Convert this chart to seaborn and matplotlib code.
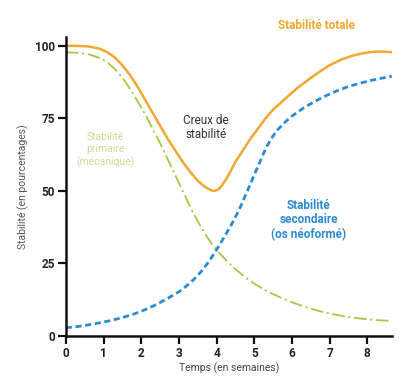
import matplotlib
matplotlib.use("Agg")
import matplotlib.pyplot as plt
import seaborn as sns
import pandas as pd

# ---- data ----
total_x = [0, 0.3, 0.6, 0.9, 1.1, 1.3, 1.5, 1.7, 1.9, 2.1, 2.3, 2.5, 2.7, 2.9, 3.1, 3.3, 3.5, 3.7,
           3.85, 3.95, 4.05, 4.15, 4.3, 4.5, 4.7, 4.9, 5.1, 5.3, 5.5, 5.8, 6.1, 6.4, 6.7, 7.0, 7.3,
           7.6, 7.9, 8.2, 8.45, 8.65]
total_y = [100, 100, 99.8, 99, 97.8, 96, 93.3, 90, 86, 81.5, 77, 72.5, 68, 64, 60, 56.5, 53.5, 51.3,
           50.2, 50, 50.5, 52, 55, 60, 64, 68, 71.5, 75, 78, 81.5, 85, 88, 90.8, 93.3, 95.2,
           96.6, 97.5, 98, 98, 97.8]

second_x = [0, 0.3, 0.6, 0.9, 1.2, 1.5, 1.8, 2.1, 2.4, 2.7, 3.0, 3.2, 3.4, 3.6, 3.8, 4.0, 4.2, 4.4,
            4.6, 4.8, 5.0, 5.15, 5.3, 5.45, 5.6, 5.8, 6.0, 6.3, 6.6, 6.9, 7.2, 7.5, 7.8, 8.1, 8.4, 8.65]
second_y = [2.8, 3.2, 3.8, 4.5, 5.3, 6.3, 7.5, 9, 10.8, 12.9, 15.2, 17.2, 19.5, 22.3, 25.7, 29.7, 34, 38.5,
            43.5, 49.5, 55.5, 60, 64.5, 68, 70.8, 73.5, 75.8, 78.5, 80.8, 82.8, 84.5, 86, 87.1, 88.1, 88.9, 89.5]

prim_x = [0, 0.3, 0.6, 0.9, 1.1, 1.3, 1.5, 1.7, 1.9, 2.1, 2.3, 2.5, 2.7, 2.9, 3.1, 3.3, 3.5, 3.7,
          3.9, 4.1, 4.3, 4.5, 4.8, 5.1, 5.4, 5.7, 6.0, 6.3, 6.6, 6.9, 7.2, 7.5, 7.8, 8.1, 8.4, 8.65]
prim_y = [97.8, 97.6, 97.1, 95.8, 94.3, 92, 89, 85.3, 81, 76.5, 71.5, 66.5, 61, 55.5, 50, 44.5, 39.5, 35,
          31.3, 28.2, 25.5, 23, 19.8, 17.2, 15, 13.2, 11.6, 10.2, 9, 8, 7.2, 6.5, 6, 5.6, 5.3, 5.2]

x_ticks = [0, 1, 2, 3, 4, 5, 6, 7, 8]
y_ticks = [0, 25, 50, 75, 100]

ORANGE = "#F0A832"
BLUE = "#2C8BD2"
GREEN = "#A8C646"

sns.set_style("white")
plt.rcParams["font.family"] = ["Roboto", "DejaVu Sans"]

fig = plt.figure(figsize=(3.99, 3.91), dpi=100)
ax = fig.add_axes([0.165, 0.141, 0.817, 0.764])

df_t = pd.DataFrame({"x": total_x, "y": total_y})
df_s = pd.DataFrame({"x": second_x, "y": second_y})
df_p = pd.DataFrame({"x": prim_x, "y": prim_y})

sns.lineplot(data=df_p, x="x", y="y", ax=ax, color=GREEN, linewidth=1.3, legend=False)
ax.lines[-1].set_dashes((7, 2, 1.2, 2))
sns.lineplot(data=df_s, x="x", y="y", ax=ax, color=BLUE, linewidth=2.0, legend=False)
ax.lines[-1].set_dashes((2.2, 1.3))
sns.lineplot(data=df_t, x="x", y="y", ax=ax, color=ORANGE, linewidth=1.8, legend=False)

ax.set_xlim(0, 8.65)
ax.set_ylim(0, 103)
ax.set_xticks(x_ticks)
ax.set_yticks(y_ticks)
ax.set_xticklabels([str(v) for v in x_ticks], fontsize=8.5, fontweight="bold", color="#222222")
ax.set_yticklabels([str(v) for v in y_ticks], fontsize=8.5, fontweight="bold", color="#222222")
ax.tick_params(axis="both", direction="out", length=6, width=1.6, color="#111111", pad=2,
               bottom=True, left=True)

for s in ["top", "right"]:
    ax.spines[s].set_visible(False)
for s in ["left", "bottom"]:
    ax.spines[s].set_linewidth(1.8)
    ax.spines[s].set_color("#111111")

ax.set_xlabel("Temps (en semaines)", fontsize=7.5, color="#444444", labelpad=2)
ax.set_ylabel("Stabilité (en pourcentages)", fontsize=7.5, color="#555555", labelpad=4)

ax.text(3.72, 72, "Creux de\nstabilité", ha="center", va="center", fontsize=8.5,
        color="#333333", linespacing=1.1)
ax.text(6.65, 107, "Stabilité totale", ha="center", va="center", fontsize=8.5,
        fontweight="bold", color=ORANGE, clip_on=False)
ax.text(6.45, 40, "Stabilité\nsecondaire\n(os néoformé)", ha="center", va="center",
        fontsize=8.5, fontweight="bold", color=BLUE, linespacing=1.15)
ax.text(1.05, 64, "Stabilité\nprimaire\n(mécanique)", ha="center", va="center",
        fontsize=7.5, color="#C9D98A", linespacing=1.25, alpha=0.9)

fig.savefig("out.png", dpi=100, facecolor="white")
